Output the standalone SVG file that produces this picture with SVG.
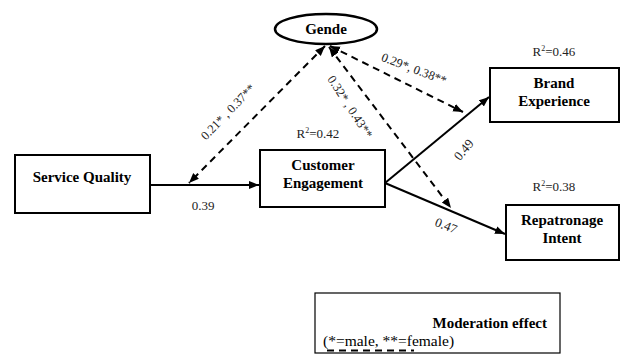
<svg xmlns="http://www.w3.org/2000/svg" width="620" height="357" viewBox="0 0 620 357">
<style>
  .box { fill: #fff; stroke: #000; stroke-width: 2; }
  .node { font-family: "Liberation Serif", "Times New Roman", serif; font-weight: bold; font-size: 15px; fill: #000; text-anchor: middle; }
  .lbl { font-family: "Liberation Serif", "Times New Roman", serif; font-size: 13px; fill: #222; text-anchor: middle; }
  .rl { font-family: "Liberation Serif", "Times New Roman", serif; font-size: 12.5px; fill: #222; text-anchor: middle; }
  .solid { fill: none; stroke: #000; stroke-width: 2; }
  .dash { fill: none; stroke: #000; stroke-width: 2; stroke-dasharray: 7 5; }
</style>
<defs>
  <marker id="ah" markerUnits="userSpaceOnUse" markerWidth="11" markerHeight="9" refX="10" refY="4" orient="auto-start-reverse">
    <path d="M0,0 L10,4 L0,8 z" fill="#000"/>
  </marker>
</defs>
<rect width="620" height="357" fill="#fff"/>

<g id="connectors">
  <line class="solid" x1="150" y1="185" x2="259" y2="185" marker-end="url(#ah)"/>
  <line class="solid" x1="385" y1="183" x2="489" y2="97" marker-end="url(#ah)"/>
  <line class="solid" x1="385" y1="183" x2="505" y2="234" marker-end="url(#ah)"/>
  <line class="dash" x1="325" y1="46" x2="189" y2="183" marker-start="url(#ah)" marker-end="url(#ah)"/>
  <line class="dash" x1="330" y1="46" x2="463" y2="112" marker-start="url(#ah)" marker-end="url(#ah)"/>
  <line class="dash" x1="329" y1="47" x2="451" y2="208" marker-start="url(#ah)" marker-end="url(#ah)"/>
  <text class="lbl" x="203" y="210">0.39</text>
  <text class="rl" transform="translate(228,112) rotate(-46)" y="4">0.21* , 0.37**</text>
  <text class="rl" transform="translate(414,69) rotate(21)" y="4">0.29*, 0.38**</text>
  <text class="rl" transform="translate(350,107) rotate(57)" y="4">0.32* , 0.43**</text>
  <text class="lbl" transform="translate(464,150) rotate(-50)" y="4">0.49</text>
  <text class="lbl" transform="translate(446,226) rotate(22)" y="4">0.47</text>
</g>

<g id="gender">
  <ellipse cx="326" cy="29" rx="51" ry="15" fill="#fff" stroke="#000" stroke-width="2.5"/>
  <text class="node" x="326" y="34">Gende</text>
</g>

<g id="service-quality">
  <rect class="box" x="15" y="155" width="135" height="58"/>
  <text class="node" x="82" y="182">Service Quality</text>
</g>

<g id="customer-engagement">
  <rect class="box" x="260" y="150" width="125" height="57"/>
  <text class="node" x="323" y="170">Customer</text>
  <text class="node" x="323" y="188">Engagement</text>
  <text class="lbl" x="318" y="138">R<tspan font-size="8" dy="-5">2</tspan><tspan dy="5">=0.42</tspan></text>
</g>

<g id="brand-experience">
  <rect class="box" x="490" y="68" width="129" height="54"/>
  <text class="node" x="554" y="88">Brand</text>
  <text class="node" x="554" y="106">Experience</text>
  <text class="lbl" x="554" y="56">R<tspan font-size="8" dy="-5">2</tspan><tspan dy="5">=0.46</tspan></text>
</g>

<g id="repatronage-intent">
  <rect class="box" x="506" y="205" width="113" height="55"/>
  <text class="node" x="562" y="225">Repatronage</text>
  <text class="node" x="562" y="243">Intent</text>
  <text class="lbl" x="554" y="191">R<tspan font-size="8" dy="-5">2</tspan><tspan dy="5">=0.38</tspan></text>
</g>

<g id="legend">
  <rect x="315" y="293" width="245" height="60" fill="#fff" stroke="#000" stroke-width="1.2"/>
  <text class="node" x="547" y="328" style="text-anchor:end">Moderation effect</text>
  <text x="323" y="346" font-family="Liberation Serif, Times New Roman, serif" font-size="15.5" fill="#000">(*=male, **=female)</text>
  <line class="dash" x1="327" y1="350.5" x2="414" y2="350.5" stroke-dasharray="7 4"/>
</g>
</svg>
